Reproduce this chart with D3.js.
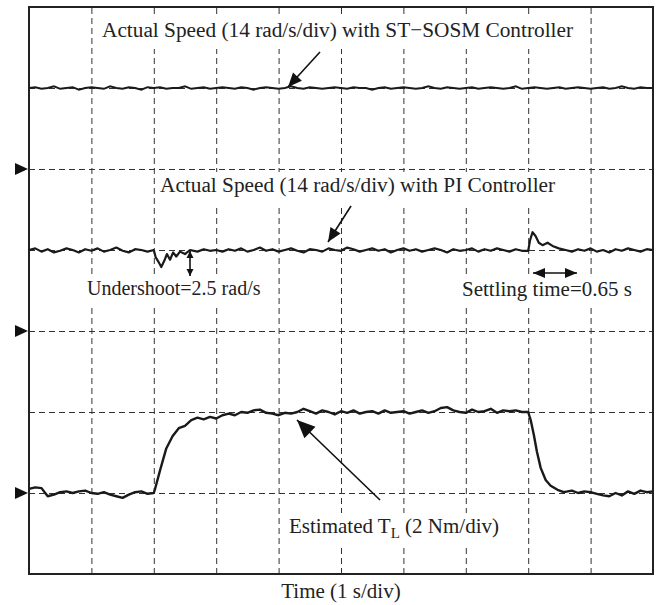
<!DOCTYPE html>
<html><head><meta charset="utf-8">
<script src="https://cdn.jsdelivr.net/npm/d3@7"></script>
<style>body{margin:0;background:#fff}svg{display:block}text{font-family:"Liberation Serif","Times New Roman",serif;fill:#222}</style>
</head><body><svg id="c" width="660" height="605"></svg>
<script>
// screen divisions: 10 horizontal (1 s/div), 7 vertical
const xDivs = [1,2,3,4,5,6,7,8,9];
const yDivs = [1,2,3,4,5,6];
const markerDivs = [5,3,1];

// ST-SOSM speed trace (div), t = 0..10 step 0.1
const sosmT = d3.range(0,101).map(i=>i/10);
const sosmV = [6.00,6.01,5.99,6.00,6.02,5.99,6.00,6.01,5.98,6.00,
6.01,6.00,5.99,6.02,6.00,5.99,6.01,6.00,5.98,6.01,
6.00,6.01,5.99,6.00,6.00,6.02,5.99,6.00,6.01,5.99,
6.00,6.01,6.00,5.99,6.01,6.00,5.98,6.00,6.01,6.00,
5.99,6.00,6.02,6.00,5.99,6.01,6.00,5.99,6.00,6.01,
6.00,5.99,6.01,6.00,6.00,5.98,6.00,6.01,5.99,6.00,
6.01,6.00,5.99,6.00,6.02,6.00,5.99,6.01,6.00,5.99,
6.00,6.01,5.99,6.00,6.01,6.00,5.99,6.00,6.02,5.99,
6.00,6.01,6.00,5.99,6.00,6.01,5.99,6.00,6.01,6.00,
5.99,6.00,6.01,5.99,6.00,6.02,6.00,5.99,6.01,6.00,6.00];

// PI speed trace (div)
const piT = [0,0.1,0.2,0.3,0.4,0.5,0.6,0.7,0.8,0.9,1.0,1.1,1.2,1.3,1.4,1.5,1.6,1.7,1.8,1.9,
2.0,2.03,2.07,2.12,2.17,2.21,2.26,2.31,2.36,2.42,2.50,2.58,2.7,2.8,2.9,
3.0,3.1,3.2,3.3,3.4,3.5,3.6,3.7,3.8,3.9,4.0,4.1,4.2,4.3,4.4,4.5,4.6,4.7,4.8,4.9,
5.0,5.1,5.2,5.3,5.4,5.5,5.6,5.7,5.8,5.9,6.0,6.1,6.2,6.3,6.4,6.5,6.6,6.7,6.8,6.9,
7.0,7.1,7.2,7.3,7.4,7.5,7.6,7.7,7.8,7.9,
8.0,8.03,8.07,8.12,8.17,8.23,8.31,8.39,8.49,8.6,
8.7,8.8,8.9,9.0,9.1,9.2,9.3,9.4,9.5,9.6,9.7,9.8,9.9,10.0];
const piV = [4.00,4.02,3.98,4.01,3.97,3.99,4.02,4.00,3.97,4.01,3.99,4.02,3.98,4.00,4.03,3.99,3.97,4.01,4.00,3.98,
4.00,3.91,3.86,3.79,3.87,3.95,3.88,3.97,3.92,3.98,3.95,4.00,3.98,4.01,3.99,
4.00,3.98,4.01,3.99,4.02,3.98,4.00,4.03,3.99,4.01,3.98,4.00,4.02,3.99,3.97,4.01,4.00,3.98,4.02,4.00,
3.99,4.03,4.01,3.98,4.00,4.02,3.99,4.01,3.97,4.00,4.02,3.99,4.01,3.98,4.00,4.02,4.00,3.97,4.01,3.99,
4.00,4.02,3.98,4.01,3.99,4.02,4.00,3.98,4.01,3.99,
3.99,4.12,4.22,4.17,4.09,4.06,4.09,4.05,4.02,4.00,
3.98,4.01,3.99,4.02,3.98,4.00,3.97,4.01,3.99,4.02,4.00,3.98,4.01,4.00];

// Estimated load torque trace (div)
const tlT = [0,0.1,0.2,0.3,0.4,0.5,0.6,0.7,0.8,0.9,1.0,1.1,1.2,1.3,1.4,1.5,1.6,1.7,1.8,1.9,2.0,
2.02,2.1,2.2,2.3,2.4,2.5,2.6,2.7,2.8,2.9,3.0,3.1,3.2,3.3,3.4,3.5,3.6,3.7,3.8,3.9,
4.0,4.1,4.2,4.3,4.4,4.5,4.6,4.7,4.8,4.9,5.0,5.1,5.2,5.3,5.4,5.5,5.6,5.7,5.8,5.9,
6.0,6.1,6.2,6.3,6.4,6.5,6.6,6.7,6.8,6.9,7.0,7.1,7.2,7.3,7.4,7.5,7.6,7.7,7.8,7.9,8.0,
8.04,8.09,8.14,8.2,8.28,8.36,8.47,8.57,8.7,8.8,8.9,9.0,9.1,9.2,9.3,9.4,9.5,9.6,9.7,9.8,9.9,10.0];
const tlV = [1.05,1.07,1.06,0.96,0.98,1.01,1.02,1.00,1.02,1.03,1.00,0.99,1.01,0.98,0.96,0.94,0.98,1.01,1.02,0.99,1.00,
1.05,1.28,1.55,1.70,1.80,1.83,1.90,1.93,1.91,1.94,1.92,1.96,1.98,1.96,2.00,1.99,2.02,2.03,1.99,1.98,
1.96,1.99,1.98,2.00,2.04,2.01,1.98,2.02,2.00,1.97,2.01,1.99,2.02,1.98,2.00,2.01,1.98,2.02,1.99,2.00,
2.01,1.98,2.00,2.02,1.99,2.01,2.05,2.06,2.02,2.00,1.99,2.03,2.00,2.01,2.04,1.99,2.02,2.01,2.02,2.00,2.00,
1.90,1.72,1.51,1.31,1.16,1.09,1.04,1.01,1.03,1.00,1.02,1.01,0.99,0.97,0.96,1.00,0.97,1.02,0.99,1.03,1.01,1.02];

const svg = d3.select("#c");
const x = d3.scaleLinear().domain([0,10]).range([29,653]);
const y = d3.scaleLinear().domain([0,7]).range([574,7]);

// grid
const gx = svg.append("g").attr("transform","translate(0,574)")
  .call(d3.axisBottom(x).tickValues(xDivs).tickSize(-567).tickFormat(""));
const gy = svg.append("g").attr("transform","translate(29,0)")
  .call(d3.axisLeft(y).tickValues(yDivs).tickSize(-624).tickFormat(""));
[gx,gy].forEach(g=>{
  g.select(".domain").remove();
  g.selectAll(".tick line").attr("stroke","#333").attr("stroke-width",1).attr("stroke-dasharray","6,4");
});

// labels (white box behind, as in the original figure)
const labels = svg.append("g");
function label(tx,ty,size,anchor,parts){
  const g = labels.append("g");
  const t = g.append("text").attr("x",tx).attr("y",ty).attr("font-size",size).attr("text-anchor",anchor);
  parts.forEach(p=>{
    const s=t.append("tspan").text(p.t);
    if(p.dy) s.attr("dy",p.dy);
    if(p.fs) s.attr("font-size",p.fs);
  });
  const b = t.node().getBBox();
  g.insert("rect","text").attr("x",b.x-3).attr("y",b.y-1).attr("width",b.width+6).attr("height",b.height+8).attr("fill","#fff");
}

// frame
svg.append("rect").attr("x",x(0)).attr("y",y(7)).attr("width",x(10)-x(0)).attr("height",y(0)-y(7))
  .attr("fill","none").attr("stroke","#222").attr("stroke-width",2);

label(102,37,21.3,"start",[{t:"Actual Speed (14 rad/s/div) with ST\u2212SOSM Controller"}]);
label(160,192,21.3,"start",[{t:"Actual Speed (14 rad/s/div) with PI Controller"}]);
label(87,295,20,"start",[{t:"Undershoot=2.5 rad/s"}]);
label(462,296,21,"start",[{t:"Settling time=0.65 s"}]);
label(499,533,21,"end",[{t:"Estimated T"},{t:"L",dy:5,fs:15},{t:" (2 Nm/div)",dy:-5}]);
label(341,598,21,"middle",[{t:"Time (1 s/div)"}]);

// traces
const line = (T)=>d3.line().x((d,i)=>x(T[i])).y(d=>y(d));
svg.append("path").attr("d",line(sosmT)(sosmV)).attr("fill","none").attr("stroke","#1a1a1a").attr("stroke-width",2);
svg.append("path").attr("d",line(piT)(piV)).attr("fill","none").attr("stroke","#1a1a1a").attr("stroke-width",2.2).attr("stroke-linejoin","round");
svg.append("path").attr("d",line(tlT)(tlV)).attr("fill","none").attr("stroke","#1a1a1a").attr("stroke-width",2.4).attr("stroke-linejoin","round");

// channel markers
svg.selectAll(".mk").data(markerDivs).join("path")
  .attr("d",d=>`M15,${y(d)-6}L28,${y(d)}L15,${y(d)+6}Z`).attr("fill","#111");

// arrows
function arrow(x1,y1,x2,y2,hl,hw,both){
  svg.append("line").attr("x1",x1).attr("y1",y1).attr("x2",x2).attr("y2",y2).attr("stroke","#111").attr("stroke-width",1.6);
  const head=(ax,ay,bx,by)=>{
    const a=Math.atan2(by-ay,bx-ax), c=Math.cos(a), s=Math.sin(a);
    const px=bx-hl*c, py=by-hl*s;
    svg.append("path").attr("d",`M${bx},${by}L${px-hw*s},${py+hw*c}L${px+hw*s},${py-hw*c}Z`).attr("fill","#111");
  };
  head(x1,y1,x2,y2);
  if(both) head(x2,y2,x1,y1);
}
arrow(320,52,288,87,14,6);
arrow(351,206,328,242,14,6);
arrow(380,500,297,420,18,8);
arrow(190,251,190,276,7,3.5,true);
arrow(533,273,577,273,12,5,true);
</script></body></html>
